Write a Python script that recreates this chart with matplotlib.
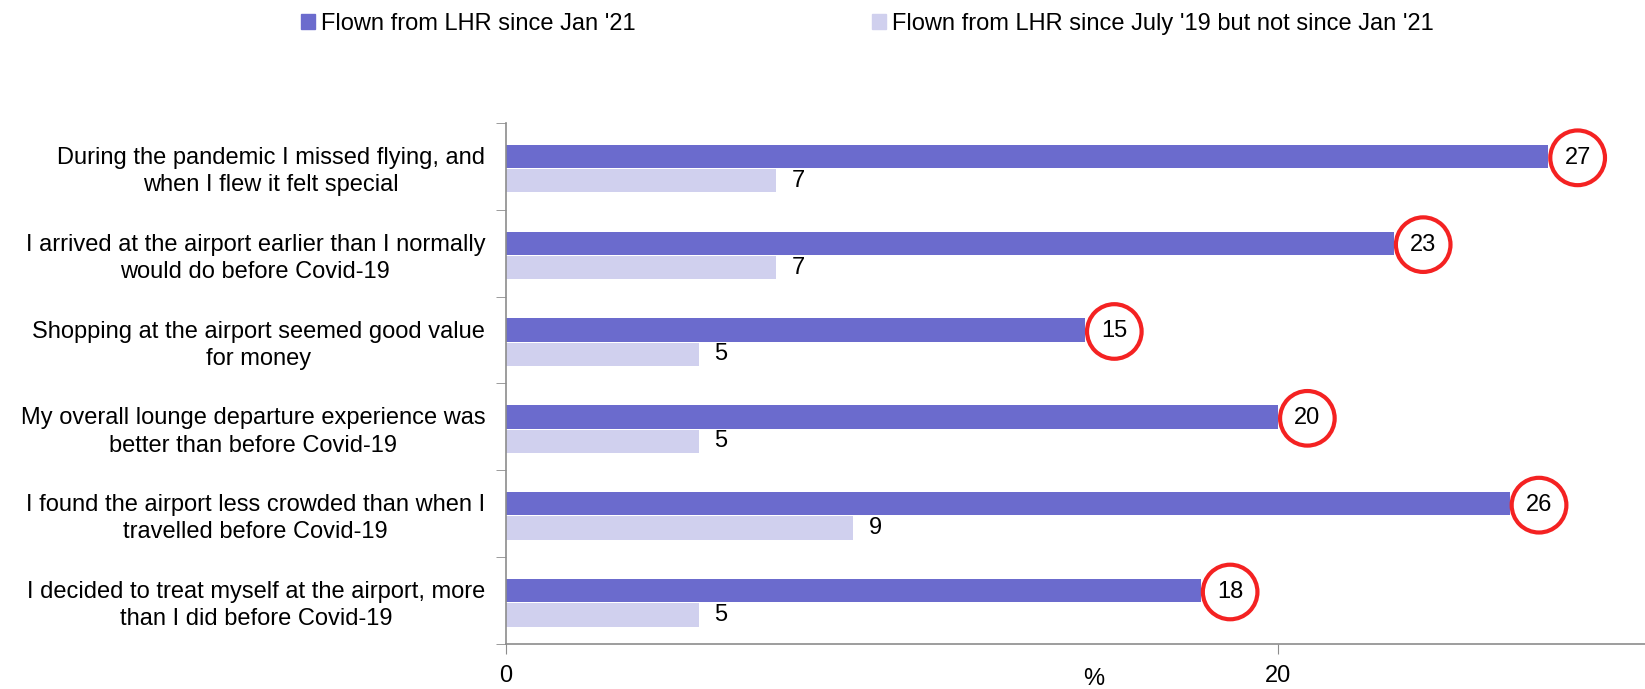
import numpy as np
import matplotlib.pyplot as plt
from matplotlib.patches import Patch

plt.rcParams['font.family'] = ['Liberation Sans', 'DejaVu Sans']

categories = [
    "During the pandemic I missed flying, and\nwhen I flew it felt special",
    "I arrived at the airport earlier than I normally\nwould do before Covid-19",
    "Shopping at the airport seemed good value\nfor money",
    "My overall lounge departure experience was\nbetter than before Covid-19",
    "I found the airport less crowded than when I\ntravelled before Covid-19",
    "I decided to treat myself at the airport, more\nthan I did before Covid-19",
]
since_jan21 = [27, 23, 15, 20, 26, 18]
jul19_not_jan21 = [7, 7, 5, 5, 9, 5]
series_names = ["Flown from LHR since Jan '21",
                "Flown from LHR since July '19 but not since Jan '21"]

dark = '#6B6BCD'
light = '#D0D0EE'
grey = '#8C8C8C'
fs = 17

fig = plt.figure(figsize=(16.45, 6.89), dpi=100)
ax = fig.add_axes([0.3076, 0.0653, 0.6924, 0.7562])

y = np.arange(len(categories))
h = 0.27
ax.barh(y - 0.115, since_jan21, height=h, color=dark)
ax.barh(y + 0.165, jul19_not_jan21, height=h, color=light)

for yi, v in zip(y, since_jan21):
    ax.annotate(str(v), (v, yi - 0.115), xytext=(21, -1), textcoords='offset points',
                ha='center', va='center', fontsize=fs,
                bbox=dict(boxstyle='circle,pad=0.6', fc='none', ec='#F42222', lw=3))
for yi, v in zip(y, jul19_not_jan21):
    ax.annotate(str(v), (v, yi + 0.165), xytext=(11, 0), textcoords='offset points',
                ha='left', va='center', fontsize=fs)

ax.set_xlim(0, 29.5)
ax.set_ylim(5.5, -0.5)
ax.set_xticks([0, 20])
ax.tick_params(axis='x', length=7, pad=8, color=grey, labelsize=fs)
ax.set_yticks(y)
ax.set_yticklabels(categories, multialignment='center', fontsize=fs, linespacing=1.3)
ax.set_yticks(np.arange(-0.5, 6.0, 1), minor=True)
ax.tick_params(axis='y', which='major', length=0, pad=15)
ax.tick_params(axis='y', which='minor', length=7, color=grey)

for s in ['top', 'right']:
    ax.spines[s].set_visible(False)
for s in ['left', 'bottom']:
    ax.spines[s].set_color(grey)
    ax.spines[s].set_linewidth(1.2)

ax.text(0.516, -0.068, '%', transform=ax.transAxes, ha='center', va='center', fontsize=fs)

handles = [Patch(color=dark), Patch(color=light)]
fig.legend(handles, series_names, loc='upper left', bbox_to_anchor=(0.17, 1.012),
           ncol=2, frameon=False, fontsize=fs, handlelength=0.6, handleheight=0.6,
           handletextpad=0.25, columnspacing=10)

fig.savefig('out.png', dpi=100)
